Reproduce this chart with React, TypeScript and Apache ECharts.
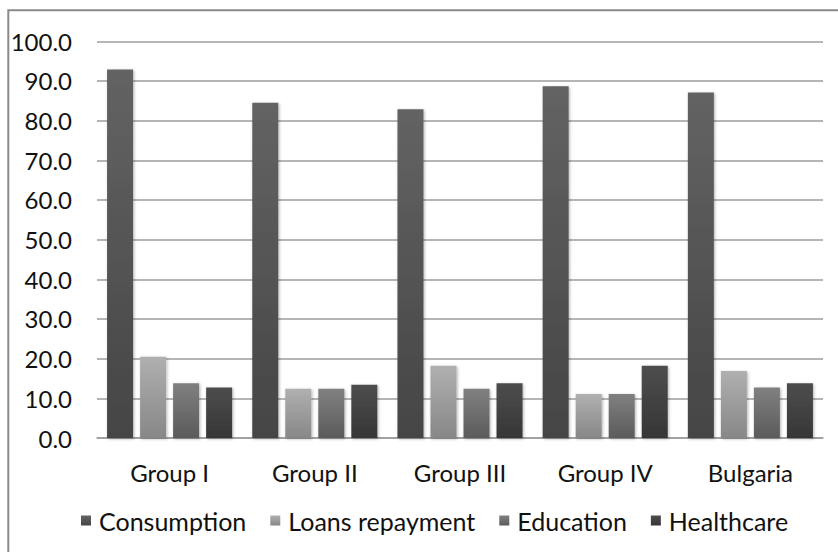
import React, { useEffect, useRef } from "react";
import * as echarts from "echarts";

const categories = ["Group I", "Group II", "Group III", "Group IV", "Bulgaria"];
const seriesNames = ["Consumption", "Loans repayment", "Education", "Healthcare"];
const consumption = [92.9, 84.5, 82.9, 88.7, 87.1];
const loansRepayment = [20.5, 12.4, 18.2, 11.1, 16.9];
const education = [13.8, 12.4, 12.4, 11.1, 12.7];
const healthcare = [12.7, 13.4, 13.8, 18.2, 13.8];
const yTicks = { min: 0, max: 100, interval: 10 };

const FONT = "Lato";

function grad(top: string, bottom: string) {
  return new echarts.graphic.LinearGradient(0, 0, 0, 1, [
    { offset: 0, color: top },
    { offset: 1, color: bottom },
  ]);
}

export default function App() {
  const ref = useRef<HTMLDivElement>(null);
  useEffect(() => {
    document.body.style.margin = "0";
    if (!ref.current) return;
    const chart = echarts.init(ref.current, undefined, { renderer: "svg" });
    const values = [consumption, loansRepayment, education, healthcare];
    const colors = [
      ["#636363", "#454545"],
      ["#b0b0b0", "#878787"],
      ["#808080", "#5b5b5b"],
      ["#4d4d4d", "#363636"],
    ];
    chart.setOption({
      animation: false,
      backgroundColor: "#ffffff",
      textStyle: { fontFamily: FONT },
      graphic: [
        {
          type: "rect",
          shape: { x: 8.3, y: 10.3, width: 900, height: 700 },
          style: { fill: "none", stroke: "#8a8a8a", lineWidth: 2 },
          z: 100,
          silent: true,
        },
      ],
      grid: { left: 97, right: 15, top: 41.3, bottom: 114, containLabel: false },
      legend: {
        data: seriesNames,
        left: 76,
        top: 503,
        icon: "rect",
        itemWidth: 10,
        itemHeight: 10,
        itemGap: 24,
        textStyle: { fontFamily: FONT, fontSize: 25, color: "#111", padding: [0, 0, 0, 3] },
      },
      xAxis: {
        type: "category",
        data: categories,
        axisLine: { lineStyle: { color: "#9c9c9c", width: 1.5 } },
        axisTick: { show: false },
        axisLabel: { fontFamily: FONT, fontSize: 24, color: "#111", margin: 22 },
      },
      yAxis: {
        type: "value",
        min: yTicks.min,
        max: yTicks.max,
        interval: yTicks.interval,
        axisLine: { show: false },
        axisTick: { show: false },
        axisLabel: {
          fontFamily: FONT,
          fontSize: 24,
          color: "#111",
          margin: 25,
          formatter: (v: number) => v.toFixed(1),
        },
        splitLine: { lineStyle: { color: "#9c9c9c", width: 1.5 } },
      },
      series: seriesNames.map((name, i) => ({
        name,
        type: "bar",
        data: values[i],
        barWidth: 26,
        barGap: "27%",
        itemStyle: {
          color: grad(colors[i][0], colors[i][1]),
          shadowBlur: 3,
          shadowColor: "rgba(0,0,0,0.3)",
          shadowOffsetX: 1,
          shadowOffsetY: 1,
        },
      })),
    });
    return () => chart.dispose();
  }, []);
  return <div ref={ref} style={{ width: 838, height: 552 }} />;
}
